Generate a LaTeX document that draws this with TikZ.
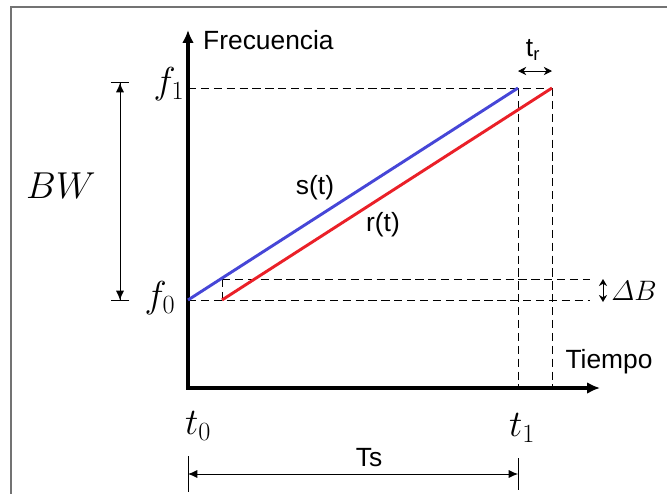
\RequirePackage{fix-cm}
\documentclass[tikz,border=0pt]{standalone}
\usepackage{amsmath}
\usepackage{fontspec}
\setsansfont{Liberation Sans}
\usepackage{tikz}
\usetikzlibrary{arrows.meta,positioning}
\definecolor{chblue}{RGB}{70,70,215}
\definecolor{chred}{RGB}{234,32,40}
\definecolor{chgray}{RGB}{115,115,115}
\tikzset{
  axis/.style={line width=3.2pt, {Latex[length=11pt,width=10pt]}-{Latex[length=11pt,width=10pt]}},
  chirp/.style={line width=2.5pt, draw=#1},
  guide/.style={line width=0.8pt, dash pattern=on 7pt off 4pt},
  dimline/.style={line width=0.8pt},
  lbl/.style={font=\fontsize{22.5}{27}\selectfont\sffamily, inner sep=0pt},
  mlbl/.style={font=\fontsize{32}{38}\selectfont, inner sep=0pt},
  frame/.style={draw=chgray, line width=1.6pt},
}

\begin{document}
\begin{tikzpicture}[x=0.03cm, y=-0.03cm]
  \useasboundingbox (0,0) rectangle (667,494);
  % Frame
  \draw[frame] (667,7) -- (11,7) -- (11,494);

  % Key points
  \coordinate (O) at (188,388);
  \coordinate (ytip) at (188,30);
  \coordinate (xtip) at (600,388);
  \coordinate (s0) at (188,300);
  \coordinate (s1) at (518,88);
  \coordinate (r0) at (222,300);
  \coordinate (r1) at (552,88);
  \coordinate (db0) at (222,279);
  \coordinate (db1) at (590,279);
  \coordinate (df0) at (590,300);
  \coordinate (t1b) at (518,388);
  \coordinate (trb) at (552,388);

  % Guides
  \draw[guide] (s0) -- (df0);
  \draw[guide] (db0) -- (db1);
  \draw[guide] (db0) -- (r0);
  \draw[guide] (ytip |- s1) -- (r1);
  \draw[guide] (s1) -- (t1b);
  \draw[guide] (r1) -- (trb);

  % Axes
  \draw[axis] (ytip) -- (O) -- (xtip);
  \node[lbl, anchor=west] (freq) at (203,40) {Frecuencia};
  \node[lbl] (tiempo) at (609,362) {Tiempo};

  % Signals
  \draw[chirp=chblue] (s0) -- (s1);
  \draw[chirp=chred] (r0) -- (r1);
  \node[lbl] (st) at (315,188) {s(t)};
  \node[lbl] (rt) at (383,225) {r(t)};

  % Axis values
  \node[mlbl] (f1) at (169,84) {$f_1$};
  \node[mlbl] (f0) at (160,298) {$f_0$};
  \node[mlbl] (t0) at (198,426) {$t_0$};
  \node[mlbl] (t1) at (522,428) {$t_1$};

  % Bandwidth
  \coordinate (bwtop) at (120,82);
  \coordinate (bwbot) at (120,301);
  \draw[dimline, {Bar[width=16pt] Latex[length=8pt,width=7pt]}-{Latex[length=8pt,width=7pt] Bar[width=16pt]}] (bwtop) -- (bwbot);
  \node[mlbl] (bw) at (61,186) {$BW$};

  % Delay
  \coordinate (tra) at (518,71);
  \coordinate (trc) at (552,71);
  \draw[dimline, {Stealth[length=7pt,width=7pt]}-{Stealth[length=7pt,width=7pt]}] (tra) -- (trc);
  \node[lbl] (tr) at (533,50) {t\textsubscript{r}};

  % Frequency offset
  \coordinate (dba) at (603,279);
  \coordinate (dbc) at (603,302);
  \draw[dimline, {Stealth[length=6pt,width=7pt]}-{Stealth[length=6pt,width=7pt]}] (dba) -- (dbc);
  \node[mlbl, font=\fontsize{24}{29}\selectfont] (db) at (634,291) {$\varDelta B$};

  % Symbol time
  \coordinate (tsl0) at (188,456);
  \coordinate (tsl1) at (188,492);
  \coordinate (tsr0) at (518,458);
  \coordinate (tsr1) at (518,490);
  \draw[dimline] (tsl0) -- (tsl1);
  \draw[dimline] (tsr0) -- (tsr1);
  \draw[dimline, {Latex[length=8pt,width=7pt]}-{Latex[length=8pt,width=7pt]}] (tsl0 |- 0,474) -- (tsr0 |- 0,474);
  \node[lbl] (ts) at (369,458) {Ts};
\end{tikzpicture}
\end{document}
